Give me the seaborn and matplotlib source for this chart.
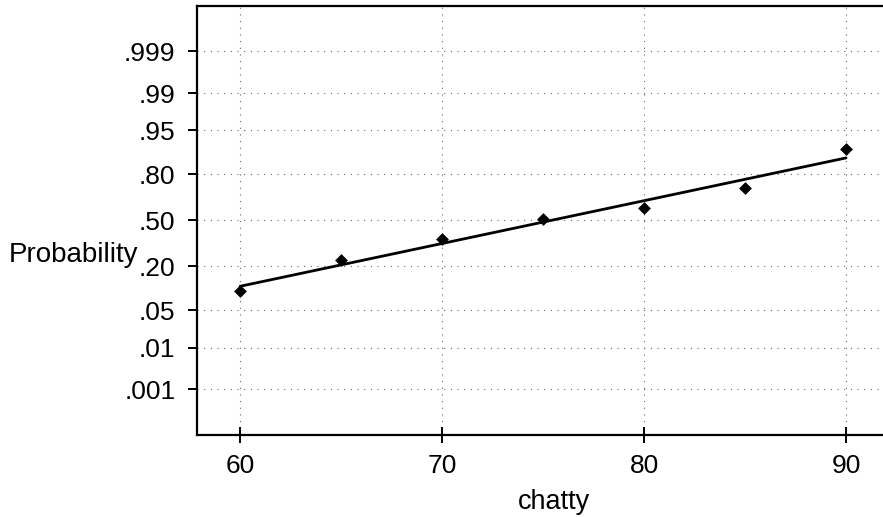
import matplotlib
matplotlib.use("Agg")
import matplotlib.pyplot as plt
import seaborn as sns
import pandas as pd
from statistics import NormalDist

# Data
chatty = [60, 65, 70, 75, 80, 85, 90]
probability = [0.099, 0.232, 0.368, 0.507, 0.589, 0.721, 0.903]
x_ticks = [60, 70, 80, 90]
p_ticks = [0.001, 0.01, 0.05, 0.20, 0.50, 0.80, 0.95, 0.99, 0.999]
p_tick_labels = [".001", ".01", ".05", ".20", ".50", ".80", ".95", ".99", ".999"]

nd = NormalDist()
df = pd.DataFrame({"chatty": chatty,
                   "z": [nd.inv_cdf(p) for p in probability]})

sns.set_style("white")
plt.rcParams["font.family"] = ["Liberation Sans", "DejaVu Sans"]
plt.rcParams["text.color"] = "black"
plt.rcParams["xtick.color"] = "black"
plt.rcParams["ytick.color"] = "black"

W, H = 883, 517
fig = plt.figure(figsize=(W / 100, H / 100), dpi=100)
ax = fig.add_axes([197 / W, (H - 435) / H, (883 - 197) / W, (435 - 6) / H])

sns.regplot(data=df, x="chatty", y="z", ci=None, ax=ax,
            marker="D",
            scatter_kws=dict(s=36, color="black", alpha=1.0, edgecolors="black",
                             linewidths=0.5, zorder=3),
            line_kws=dict(color="black", lw=2.0, zorder=2))

ax.set_xlim(57.87, 91.83)
ax.set_ylim(-3.926, 3.919)

ax.set_xticks(x_ticks)
ax.set_xticklabels([str(v) for v in x_ticks])
ax.set_yticks([nd.inv_cdf(p) for p in p_ticks])
ax.set_yticklabels(p_tick_labels)

ax.grid(True, color="#666666", linestyle=(0, (1, 5)), lw=0.8)
ax.set_axisbelow(True)

for s in ["left", "bottom", "top"]:
    ax.spines[s].set_visible(True)
    ax.spines[s].set_color("black")
    ax.spines[s].set_linewidth(1.6)
ax.spines["right"].set_visible(False)

ax.tick_params(axis="y", direction="out", length=6.5, width=1.4, pad=9,
               labelsize=19, labelcolor="black", left=True)
ax.tick_params(axis="x", direction="inout", length=12, width=1.4, pad=8,
               labelsize=19, labelcolor="black", bottom=True)

ax.set_xlabel("")
ax.set_ylabel("")
fig.text(9 / W, (H - 262) / H, "Probability", fontsize=20,
         ha="left", va="baseline", color="black")
fig.text(554 / W, (H - 509) / H, "chatty", fontsize=19.5,
         ha="center", va="baseline", color="black")

fig.savefig("out.png", dpi=100)
